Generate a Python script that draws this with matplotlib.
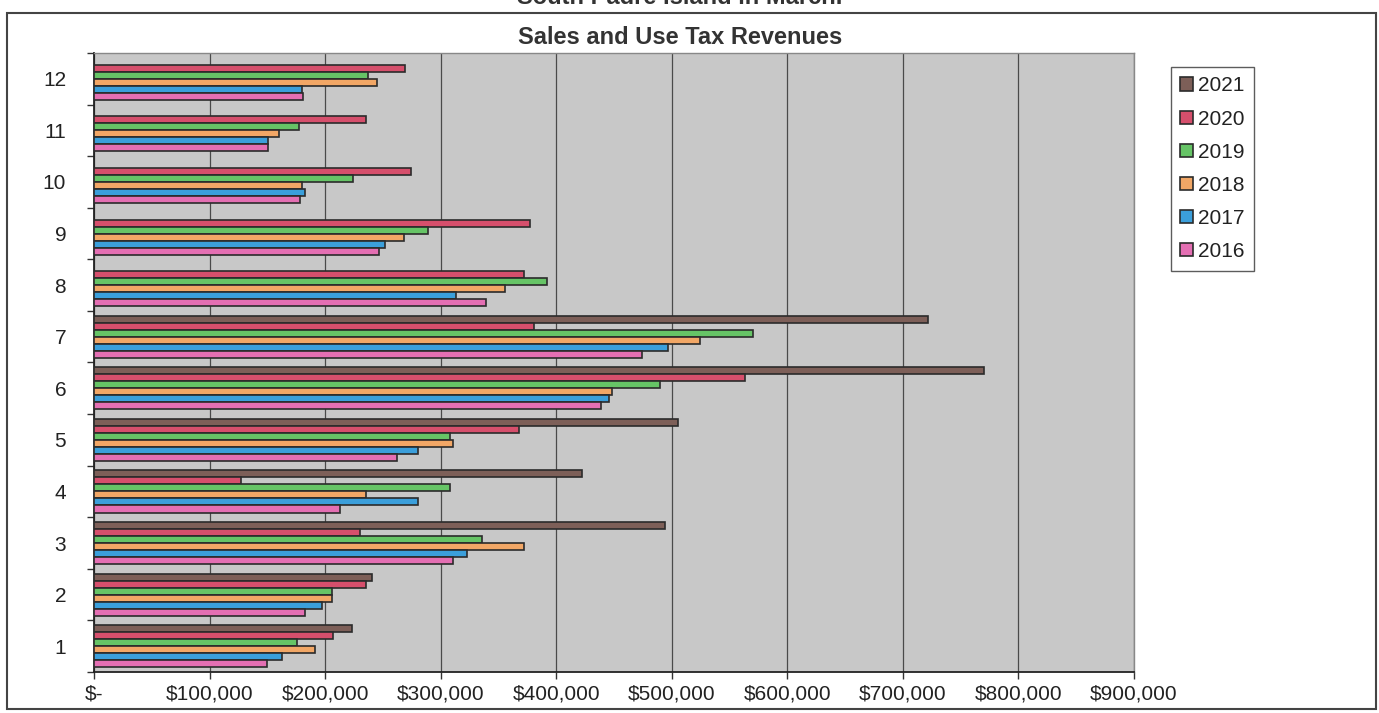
import numpy as np
import matplotlib.pyplot as plt
from matplotlib.patches import Rectangle

plt.rcParams['font.family'] = ['Liberation Sans', 'DejaVu Sans']

months = [1, 2, 3, 4, 5, 6, 7, 8, 9, 10, 11, 12]
years = ['2021', '2020', '2019', '2018', '2017', '2016']

# monthly sales & use tax revenue, dollars (2021 only through July)
rev_2021 = [223000, 241000, 494000, 422000, 505000, 770000, 722000]
rev_2020 = [207000, 235000, 230000, 127000, 368000, 563000, 381000, 372000, 377000, 274000, 235000, 269000]
rev_2019 = [176000, 206000, 336000, 308000, 308000, 490000, 570000, 392000, 289000, 224000, 177000, 237000]
rev_2018 = [191000, 206000, 372000, 235000, 311000, 448000, 524000, 356000, 268000, 180000, 160000, 245000]
rev_2017 = [163000, 197000, 323000, 280000, 280000, 446000, 497000, 313000, 252000, 183000, 151000, 180000]
rev_2016 = [150000, 183000, 311000, 213000, 262000, 439000, 474000, 339000, 247000, 178000, 151000, 181000]

series = [rev_2021, rev_2020, rev_2019, rev_2018, rev_2017, rev_2016]
colors = ['#7d5f58', '#d64f6c', '#66c466', '#f2a766', '#3b9fdb', '#e46fb3']

xticks = [0, 100000, 200000, 300000, 400000, 500000, 600000, 700000, 800000, 900000]
xlabels = ['$-', '$100,000', '$200,000', '$300,000', '$400,000', '$500,000',
           '$600,000', '$700,000', '$800,000', '$900,000']

W, H = 1379, 713
fig = plt.figure(figsize=(W / 100, H / 100), dpi=100)
ax = fig.add_axes([94 / W, 1 - 672 / H, (1134 - 94) / W, (672 - 53) / H])
ax.set_facecolor('#c8c8c8')

bar_h = 0.136
pos = np.arange(len(months))
for k, (vals, col, yr) in enumerate(zip(series, colors, years)):
    off = (2.5 - k) * bar_h
    ax.barh(pos[:len(vals)] + off, vals, height=bar_h, color=col,
            edgecolor='#2b2b2b', linewidth=1.2, label=yr, zorder=3)

ax.set_xlim(0, 900000)
ax.set_ylim(-0.5, len(months) - 0.5)
ax.set_xticks(xticks)
ax.set_xticklabels(xlabels, fontsize=15, color='#222222')
ax.set_yticks(pos)
ax.set_yticklabels([str(m) for m in months], fontsize=15, color='#222222')
ax.set_yticks(np.arange(len(months) + 1) - 0.5, minor=True)
ax.tick_params(axis='y', which='major', length=0, pad=20)
ax.tick_params(axis='y', which='minor', length=5, width=1, color='#333333')
ax.tick_params(axis='x', which='major', length=5, width=1, color='#333333', pad=4)

ax.grid(axis='x', color='#4a4a4a', linewidth=0.9, zorder=1)
ax.set_axisbelow(True)
for side in ['left', 'bottom']:
    ax.spines[side].set_color('#222222')
    ax.spines[side].set_linewidth(1.3)
for side in ['top', 'right']:
    ax.spines[side].set_color('#888888')
    ax.spines[side].set_linewidth(1)

# outer chart border
fig.patches.append(Rectangle((7 / W, 1 - 709 / H), (1376 - 7) / W, (709 - 13) / H,
                             transform=fig.transFigure, fill=False,
                             edgecolor='#444444', linewidth=1.5))

# page heading sits above the chart frame, only its lower part shows
fig.text(680 / W, 1 - 4 / H, 'South Padre Island in March.', ha='center', va='baseline',
         fontsize=17, fontweight='bold', color='#333333')
fig.text(680 / W, 1 - 38 / H, 'Sales and Use Tax Revenues', ha='center', va='center',
         fontsize=17, fontweight='bold', color='#333333')

leg = fig.legend(loc='upper left', bbox_to_anchor=(1171 / W, 1 - 67 / H),
                 fontsize=15, frameon=True, fancybox=False, handlelength=0.6,
                 handleheight=0.6, handletextpad=0.25, labelspacing=0.68,
                 borderpad=0.45, borderaxespad=0)
leg.get_frame().set_edgecolor('#333333')
leg.get_frame().set_linewidth(1)
for t in leg.get_texts():
    t.set_color('#222222')

fig.savefig('out.png', dpi=100)
